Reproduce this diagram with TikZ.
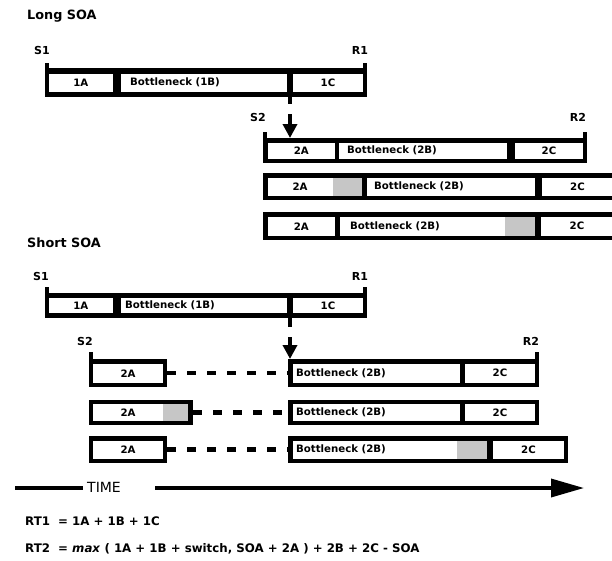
\documentclass[tikz,border=0pt]{standalone}
\usepackage{fontspec}
\setmainfont{DejaVu Sans}
\usetikzlibrary{arrows.meta}
\tikzset{
  barbg/.style={fill=black, draw=none, anchor=north west, inner sep=0pt, outer sep=0pt},
  inbox/.style={fill=white, draw=none, anchor=north west, inner sep=0pt, outer sep=0pt,
    font=\bfseries\fontsize{10.2}{12}\selectfont},
  bntext/.style={anchor=west, inner sep=0pt, font=\bfseries\fontsize{10.2}{12}\selectfont},
  boxtext/.style={inner sep=0pt, font=\bfseries\fontsize{10.2}{12}\selectfont},
  marker/.style={inner sep=0pt, font=\bfseries\fontsize{11}{13}\selectfont},
  title/.style={anchor=west, inner sep=0pt, font=\bfseries\fontsize{12.8}{15}\selectfont},
  formula/.style={anchor=west, inner sep=0pt, font=\bfseries\fontsize{11.8}{14}\selectfont},
  switchshade/.style={fill=gray!45},
  dashlink/.style={line width=4.5pt, dash pattern=on 9pt off 11pt},
}
% \outerbar{name}{x1}{y1}{x2}{y2}
\newcommand\outerbar[5]{%
  \pgfmathsetmacro\bw{#4-#2}\pgfmathsetmacro\bh{#5-#3}%
  \node[barbg, minimum width=\bw pt, minimum height=\bh pt] (#1) at (#2,#3) {};}
% \innerbox{name}{x1}{y1}{x2}{y2}{text}
\newcommand\innerbox[6]{%
  \pgfmathsetmacro\bw{#4-#2}\pgfmathsetmacro\bh{#5-#3}%
  \node[inbox, minimum width=\bw pt, minimum height=\bh pt] (#1) at (#2,#3) {#6};}
\begin{document}
\begin{tikzpicture}[x=1pt,y=-1pt]
\useasboundingbox[fill=white] (0,0) rectangle (612,560);

%================ LONG SOA ================
\node[title] (longsoa) at (27,16) {Long SOA};
\node[marker] (LS1) at (42,50) {S1};
\node[marker] (LR1) at (360,50) {R1};
% task 1
\fill (45,63) rectangle (49,70);
\fill (363,63) rectangle (367,70);
\outerbar{L1}{45}{68}{367}{97}
\innerbox{L1A}{48.5}{73.5}{113}{92}{1A}
\innerbox{L1B}{121}{73.5}{287}{92}{}
\innerbox{L1C}{293}{73.5}{363}{92}{1C}
\node[bntext] (tL1B) at ([xshift=9pt]L1B.west) {Bottleneck (1B)};
% S2 / R2
\node[marker] (LS2) at (258,117) {S2};
\node[marker] (LR2) at (578,117) {R2};
\coordinate (Larr) at (290,97);
% task 2 row a
\fill (263,132) rectangle (267,140);
\fill (583,132) rectangle (587,140);
\outerbar{La}{263}{138}{587}{163}
\innerbox{LaA}{267.5}{142.5}{335}{159}{2A}
\innerbox{LaB}{339}{142.5}{507}{159}{}
\innerbox{LaC}{515}{142.5}{583}{159}{2C}
\node[bntext] (tLaB) at ([xshift=8pt]LaB.west) {Bottleneck (2B)};
\draw[line width=4pt, dash pattern=on 7pt off 10pt on 60pt,
      -{Triangle[length=14pt,width=14pt]}] (Larr) -- (Larr |- La.north);
% row b
\outerbar{Lb}{263}{173}{613}{200}
\innerbox{LbA}{267.5}{177.5}{362}{196}{}
\fill[switchshade] (333,177.5) rectangle (362,196);
\node[boxtext] (tLbA) at (300,186.75) {2A};
\innerbox{LbB}{367}{177.5}{535}{196}{}
\innerbox{LbC}{542}{177.5}{613}{196}{2C}
\node[bntext] (tLbB) at ([xshift=7pt]LbB.west) {Bottleneck (2B)};
% row c
\outerbar{Lc}{263}{212}{613}{240}
\innerbox{LcA}{267.5}{216.5}{335}{236}{2A}
\innerbox{LcB}{340}{216.5}{535}{236}{}
\fill[switchshade] (505,216.5) rectangle (535,236);
\innerbox{LcC}{541}{216.5}{613}{236}{2C}
\node[bntext] (tLcB) at ([xshift=10pt]LcB.west) {Bottleneck (2B)};

%================ SHORT SOA ================
\node[title] (shortsoa) at (27,243) {Short SOA};
\node[marker] (SS1) at (41,276) {S1};
\node[marker] (SR1) at (360,276) {R1};
\fill (45,287) rectangle (49,295);
\fill (363,287) rectangle (367,295);
\outerbar{S1bar}{45}{293}{367}{318}
\innerbox{S1A}{48.5}{298}{113}{313}{1A}
\innerbox{S1B}{121}{298}{287}{313}{}
\innerbox{S1C}{293}{298}{363}{313}{1C}
\node[bntext] (tS1B) at ([xshift=4pt]S1B.west) {Bottleneck (1B)};
\node[marker] (SS2) at (85,341) {S2};
\node[marker] (SR2) at (531,341) {R2};
\coordinate (Sarr) at (290,318);
% row a
\fill (89,352) rectangle (93,361);
\fill (535,352) rectangle (539,361);
\outerbar{SaA}{89}{359}{167}{387}
\innerbox{SaAi}{93}{363.5}{163}{383}{2A}
\outerbar{SaB}{288}{359}{539}{387}
\innerbox{SaBi}{293}{363.5}{460}{383}{}
\innerbox{SaCi}{465}{363.5}{535}{383}{2C}
\node[bntext] (tSaB) at ([xshift=3pt]SaBi.west) {Bottleneck (2B)};
\draw[dashlink] (SaA.east) -- (SaB.west);
\draw[line width=4pt, dash pattern=on 9pt off 10pt on 60pt,
      -{Triangle[length=14pt,width=14pt]}] (Sarr) -- (Sarr |- SaB.north);
% row b
\outerbar{SbA}{89}{400}{193}{425}
\innerbox{SbAi}{93}{404}{188}{421}{}
\fill[switchshade] (163,404) rectangle (188,421);
\node[boxtext] (tSbA) at (128,412.5) {2A};
\outerbar{SbB}{288}{400}{539}{425}
\innerbox{SbBi}{293}{404}{460}{421}{}
\innerbox{SbCi}{465}{404}{535}{421}{2C}
\node[bntext] (tSbB) at ([xshift=3pt]SbBi.west) {Bottleneck (2B)};
\draw[dashlink] (SbA.east) -- (SbB.west);
% row c
\outerbar{ScA}{89}{436}{167}{463}
\innerbox{ScAi}{93}{440.5}{163}{459}{2A}
\outerbar{ScB}{288}{436}{568}{463}
\innerbox{ScBi}{293}{440.5}{487}{459}{}
\fill[switchshade] (457,440.5) rectangle (487,459);
\innerbox{ScCi}{493}{440.5}{564}{459}{2C}
\node[bntext] (tScB) at ([xshift=3pt]ScBi.west) {Bottleneck (2B)};
\draw[dashlink] (ScA.east) -- (ScB.west);

%================ TIME ================
\node[inner sep=0pt, font=\fontsize{14}{16}\selectfont] (time) at (104,487) {TIME};
\coordinate (t0) at (15,488);
\coordinate (t1) at (155,488);
\coordinate (t2) at (584,488);
\draw[line width=3.5pt] (t0) -- ([xshift=-4pt]time.west |- t0);
\draw[line width=3.5pt, -{Triangle[length=33pt,width=18pt]}] (t1) -- (t2);

\node[formula] (rt1) at (25,521) {RT1 \ = 1A + 1B + 1C};
\node[formula] (rt2) at (25,549) {RT2 \ = \textit{max} ( 1A + 1B + switch, SOA + 2A ) + 2B + 2C - SOA};
\end{tikzpicture}
\end{document}
